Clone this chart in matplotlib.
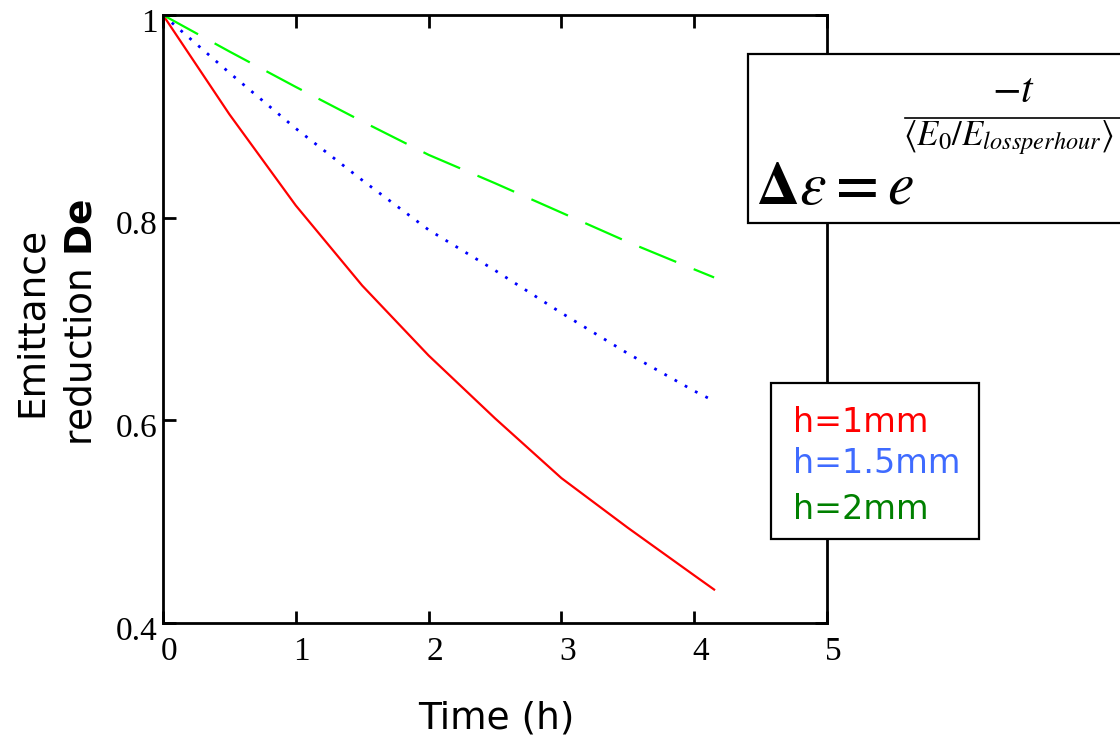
import matplotlib
matplotlib.use('Agg')
import matplotlib.pyplot as plt
from matplotlib.patches import Rectangle
from matplotlib.lines import Line2D
from matplotlib.transforms import ScaledTranslation

# 数据
time_h = [0, 0.5, 1.0, 1.5, 2.0, 2.5, 3.0, 3.5, 4.0, 4.15]
h_1mm = [1.0, 0.902, 0.812, 0.733, 0.664, 0.602, 0.543, 0.494, 0.447, 0.433]
h_15mm = [1.0, 0.943, 0.888, 0.837, 0.788, 0.748, 0.706, 0.666, 0.629, 0.619]
h_2mm = [1.0, 0.964, 0.929, 0.895, 0.862, 0.834, 0.805, 0.776, 0.749, 0.741]

x_ticks = [0, 1, 2, 3, 4, 5]
y_ticks = [0.4, 0.6, 0.8, 1.0]
y_tick_labels = ['0.4', '0.6', '0.8', '1']
legend_labels = ['h=1mm', 'h=1.5mm', 'h=2mm']
legend_colors = ['#ff0000', '#3f6bff', '#008000']

W, H = 1120, 742


def px(x, y):
    # 像素坐标 -> figure 坐标
    return x / W, 1 - y / H


fig = plt.figure(figsize=(11.2, 7.42), dpi=100)
ax = fig.add_axes([163 / W, 1 - 623 / H, (827 - 163) / W, (623 - 15) / H])

ax.plot(time_h, h_1mm, color='#ff0000', lw=1.6)
ax.plot(time_h, h_15mm, color='#0000ff', lw=2.0, linestyle=(0, (1, 3.2)))
ax.plot(time_h, h_2mm, color='#00ff00', lw=1.6, linestyle=(0, (18, 8.5)))

ax.set_xlim(0, 5)
ax.set_ylim(0.4, 1.0)
ax.set_xticks(x_ticks)
ax.set_xticklabels([str(v) for v in x_ticks])
ax.set_yticks(y_ticks)
ax.set_yticklabels(y_tick_labels)
for s in ax.spines.values():
    s.set_linewidth(2)
ax.tick_params(direction='in', length=9, width=2, top=True, right=True,
               labelsize=24)
ax.tick_params(axis='x', pad=10)
ax.tick_params(axis='y', pad=4)
for lab in ax.get_xticklabels() + ax.get_yticklabels():
    lab.set_fontfamily('Liberation Serif')
for lab in ax.get_xticklabels():
    lab.set_transform(lab.get_transform() + ScaledTranslation(0.06, 0, fig.dpi_scale_trans))
for lab in ax.get_yticklabels():
    lab.set_transform(lab.get_transform() + ScaledTranslation(0, -0.05, fig.dpi_scale_trans))

# 坐标轴标题
fig.text(*px(32, 322), 'Emittance', rotation=90, ha='center', va='center',
         fontsize=27, family='DejaVu Sans')
fig.text(*px(82, 322), r'reduction $\mathbf{De}$', rotation=90, ha='center', va='center',
         fontsize=27, family='DejaVu Sans', math_fontfamily='dejavusans')
fig.text(*px(496, 718), 'Time (h)', ha='center', va='center',
         fontsize=27, family='DejaVu Sans')

# 图例框
lx, ly = px(771, 539)
fig.add_artist(Rectangle((lx, ly), (979 - 771) / W, (539 - 383) / H,
                         transform=fig.transFigure, facecolor='white',
                         edgecolor='black', lw=1.6))
for lab, col, base in zip(legend_labels, legend_colors, [432, 473, 519]):
    fig.text(*px(793, base), lab, color=col, ha='left', va='baseline',
             fontsize=24, family='DejaVu Sans')

# 公式框
ex, ey = px(748, 223)
fig.add_artist(Rectangle((ex, ey), (1200 - 748) / W, (223 - 54) / H,
                         transform=fig.transFigure, facecolor='white',
                         edgecolor='black', lw=1.6))
fig.text(*px(756, 204), r'$\mathbf{\Delta}\varepsilon \mathbf{=} e$', ha='left', va='baseline',
         fontsize=43, math_fontfamily='stix')
fig.text(*px(1013, 102), r'$-t$', ha='center', va='baseline',
         fontsize=30, math_fontfamily='stix')
x0, y0 = px(905, 118)
x1, _ = px(1125, 118)
fig.add_artist(Line2D([x0, x1], [y0, y0], transform=fig.transFigure,
                      color='black', lw=1.2))
fig.text(*px(903, 145), r'$\left\langle E_0/E_{lossperhour}\right\rangle$',
         ha='left', va='baseline', fontsize=25, math_fontfamily='stix')

plt.savefig('out.png', dpi=100)
